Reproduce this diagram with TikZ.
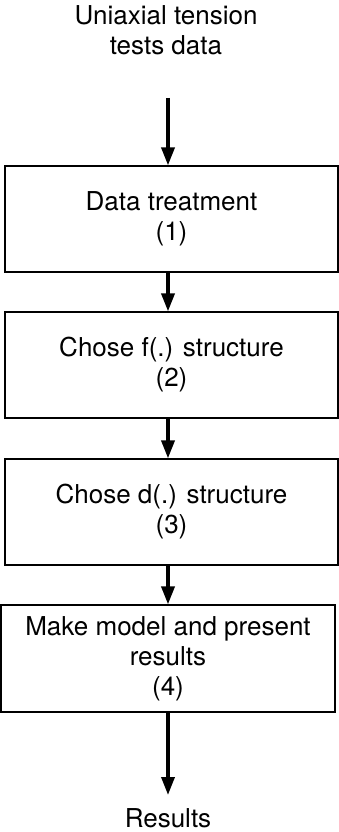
\documentclass[tikz,border=0pt]{standalone}
\usepackage{fontspec}
\setmainfont{TeX Gyre Heros}
\usetikzlibrary{arrows.meta}

\tikzset{
  stepbox/.style={draw=black, line width=1.2pt, inner sep=0pt,
    align=center, font=\fontsize{26}{30}\selectfont},
  label text/.style={inner sep=0pt, align=center,
    font=\fontsize{26}{30}\selectfont},
  flow/.style={line width=3.5pt, -{Triangle[width=13pt,length=18pt]}}
}

\begin{document}
\begin{tikzpicture}[x=1pt, y=-1pt]
  \useasboundingbox (0,0) rectangle (339,832);

  % input label
  \node[label text] (input) at (166,30) {Uniaxial tension\\tests data};

  % processing steps
  \node[stepbox, minimum width=333pt, minimum height=106pt] (s1) at (171.5,219)
    {Data treatment\\(1)};
  \node[stepbox, minimum width=333pt, minimum height=106pt] (s2) at (171.5,365)
    {Chose f(.) structure\\(2)};
  \node[stepbox, minimum width=333pt, minimum height=106pt] (s3) at (171.5,512)
    {Chose d(.) structure\\(3)};
  \node[stepbox, minimum width=334pt, minimum height=107pt] (s4) at (168,658.5)
    {Make model and present\\results\\(4)};

  % output label
  \node[label text, anchor=base] (out) at (168,827) {Results};

  % connectors, all on one vertical axis
  \coordinate (a0) at (168,98);
  \coordinate (a5) at (168,795);
  \draw[flow] (a0) -- (a0 |- s1.north);
  \draw[flow] (a0 |- s1.south) -- (a0 |- s2.north);
  \draw[flow] (a0 |- s2.south) -- (a0 |- s3.north);
  \draw[flow] (a0 |- s3.south) -- (a0 |- s4.north);
  \draw[flow] (s4.south) -- (a5);
\end{tikzpicture}
\end{document}
